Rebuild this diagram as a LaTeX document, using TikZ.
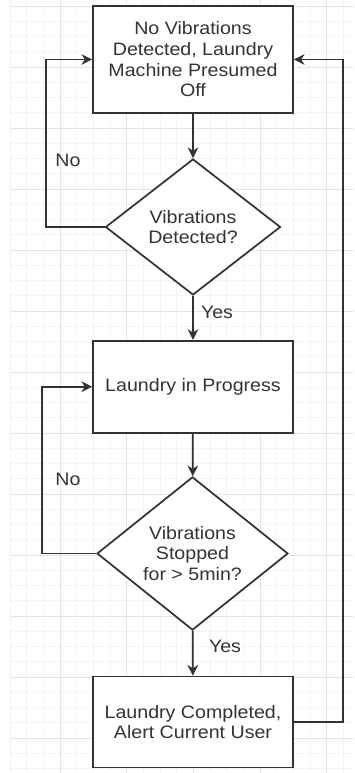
\documentclass[tikz,border=0pt]{standalone}
\usepackage{fontspec}
\setmainfont[FakeStretch=1.09]{Liberation Sans}
\usepackage{tikz}
\usetikzlibrary{shapes.geometric,arrows.meta}
\definecolor{ink}{HTML}{333333}
\definecolor{gridminor}{HTML}{F4F4F4}
\definecolor{gridmajor}{HTML}{E4E4E4}
\tikzset{
  procbox/.style={draw=ink, line width=1.3pt, fill=white, align=center, text=ink, minimum width=150pt, inner sep=0pt},
  decision/.style={draw=ink, diamond, line width=1.3pt, fill=white, align=center, text=ink, inner sep=0pt},
  flowline/.style={draw=ink, line width=1.3pt, -{Stealth[length=8pt, width=8pt, inset=2.5pt]}},
  lbl/.style={text=ink, inner sep=1pt}
}

\begin{document}
\begin{tikzpicture}[x=0.75pt, y=-0.75pt, font=\fontsize{13.5}{15.5}\selectfont]
  \useasboundingbox (0,0) rectangle (354,773);
  % background grid
  \foreach \k in {0,...,20}
    \draw[gridminor, line width=0.5pt] (10+\k*16.667,0) -- (10+\k*16.667,773);
  \foreach \k in {0,...,50}
    \draw[gridminor, line width=0.5pt] (10,6+\k*15.25) -- (354,6+\k*15.25);
  \foreach \k in {3,7,11,15,19}
    \draw[gridmajor, line width=0.6pt] (10+\k*16.667,0) -- (10+\k*16.667,773);
  \foreach \k in {0,4,...,48}
    \draw[gridmajor, line width=0.6pt] (10,6+\k*15.25) -- (354,6+\k*15.25);

  % states and checks
  \node[procbox, minimum height=80.25pt] (idle) at (193,59.5) {No Vibrations\\Detected, Laundry\\Machine Presumed\\Off};
  \node[decision, minimum width=131.25pt, minimum height=102pt] (detect) at (193,227) {Vibrations\\Detected?};
  \node[procbox, minimum height=69pt] (running) at (193,386.7) {Laundry in Progress};
  \node[decision, minimum width=143.25pt, minimum height=113.25pt] (stopped) at (192.5,553.5) {Vibrations\\Stopped\\for > 5min?};
  \node[procbox, minimum height=68.25pt] (done) at (193,722) {Laundry Completed,\\Alert Current User};

  % connectors
  \draw[flowline] (idle) -- (detect);
  \draw[flowline] (detect) -- (running);
  \draw[flowline] (running) -- (stopped);
  \draw[flowline] (stopped) -- (done);
  \draw[flowline] (detect.west) -- ++(-58.3,0) |- (idle.west);
  \draw[flowline] (stopped.west) -- ++(-54.3,0) |- (running.west);
  \draw[flowline] (done.east) -- ++(49,0) |- (idle.east);

  % branch labels
  \node[lbl] (no1) at (68,160) {No};
  \node[lbl] (yes1) at (217,312) {Yes};
  \node[lbl] (no2) at (68,479) {No};
  \node[lbl] (yes2) at (225,646) {Yes};
\end{tikzpicture}
\end{document}
